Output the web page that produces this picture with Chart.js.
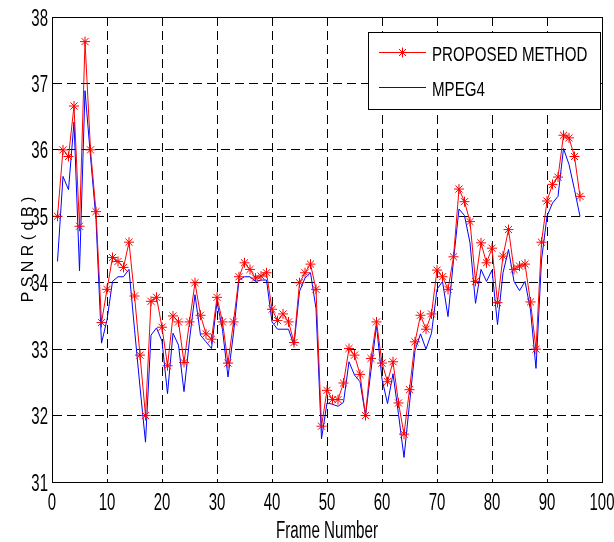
<!DOCTYPE html>
<html>
<head>
<meta charset="utf-8">
<script src="https://cdn.jsdelivr.net/npm/chart.js@4/dist/chart.umd.min.js"></script>
<style>
  html, body { margin: 0; padding: 0; background: #fff; }
  #wrap { width: 614px; height: 542px; }
</style>
</head>
<body>
<div id="wrap"><canvas id="myChart" width="614" height="542"></canvas></div>
<script>
// frame numbers
let frames = [1,2,3,4,5,6,7,8,9,10,11,12,13,14,15,16,17,18,19,20,21,22,23,24,25,26,27,28,29,30,
  31,32,33,34,35,36,37,38,39,40,41,42,43,44,45,46,47,48,49,50,51,52,53,54,55,56,57,58,59,60,
  61,62,63,64,65,66,67,68,69,70,71,72,73,74,75,76,77,78,79,80,81,82,83,84,85,86,87,88,89,90,
  91,92,93,94,95,96];

// PSNR (dB), proposed method
let proposed = [35.0,36.0,35.9,36.66,34.85,37.63,36.0,35.07,33.4,33.9,
  34.38,34.32,34.23,34.61,33.8,32.91,32.0,33.72,33.78,33.33,
  32.75,33.5,33.41,32.8,33.41,34.0,33.51,33.23,33.15,33.78,
  33.41,32.79,33.41,34.09,34.3,34.2,34.07,34.1,34.15,33.6,
  33.43,33.53,33.41,33.1,34.0,34.15,34.28,33.9,31.84,32.38,
  32.24,32.24,32.49,33.01,32.91,32.62,32.0,32.86,33.41,32.79,
  32.51,32.81,32.19,31.72,32.39,33.11,33.51,33.3,33.53,34.19,
  34.09,33.9,34.39,35.41,35.22,34.92,34.02,34.6,34.3,34.52,
  33.7,34.4,34.8,34.2,34.25,34.28,33.71,33.0,34.61,35.23,
  35.48,35.59,36.22,36.18,35.9,35.3];

// PSNR (dB), MPEG4
let mpeg4 = [34.32,35.6,35.4,36.42,34.18,36.89,35.9,34.95,33.09,33.44,
  34.02,34.09,34.09,34.2,33.3,32.43,31.6,33.21,33.32,33.12,
  32.33,33.24,33.06,32.36,33.14,33.82,33.21,33.11,33.01,33.71,
  33.29,32.58,33.24,34.04,34.09,34.09,34.02,34.04,34.04,33.41,
  33.3,33.3,33.3,33.06,33.87,34.07,34.15,33.61,31.65,32.19,
  32.17,32.14,32.2,32.81,32.61,32.51,32.0,32.68,33.36,32.55,
  32.18,32.63,32.02,31.37,32.18,32.98,33.23,33.0,33.24,33.9,
  34.02,33.49,34.34,35.11,35.01,34.6,33.69,34.2,34.02,34.19,
  33.37,34.15,34.5,34.02,33.88,34.02,33.59,32.71,34.34,35.0,
  35.2,35.3,36.02,35.78,35.4,35.0];

let xTicks = [0,10,20,30,40,50,60,70,80,90,100];
let yTicks = [31,32,33,34,35,36,37,38];
let xTitle = 'Frame Number';
let yTitle = 'P S N R ( d B )';

let font = '"Liberation Sans", Arial, sans-serif';

function pts(vals) {
  return vals.map((v, i) => ({ x: frames[i], y: v }));
}

// narrow text, like Arial Narrow in the original
function narrowText(ctx, text, x, y, size, squeeze, align, rot) {
  ctx.save();
  ctx.translate(x, y);
  if (rot) ctx.rotate(rot);
  ctx.scale(squeeze, 1);
  ctx.font = size + 'px ' + font;
  ctx.fillStyle = '#000';
  ctx.textAlign = align;
  ctx.textBaseline = 'alphabetic';
  ctx.fillText(text, 0, 0);
  ctx.restore();
}

// box round the plot, tick labels, titles and legend
let boxAndLegend = {
  id: 'boxAndLegend',
  afterDraw(chart) {
    let ctx = chart.ctx;
    let a = chart.chartArea;
    let xs = chart.scales.x, ys = chart.scales.y;
    ctx.save();
    ctx.strokeStyle = '#000';
    ctx.lineWidth = 1;
    ctx.strokeRect(a.left + 0.5, a.top + 0.5, a.right - a.left, a.bottom - a.top);

    xs.ticks.forEach(t => {
      narrowText(ctx, String(t.value), xs.getPixelForValue(t.value), 510, 23, 0.65, 'center');
    });
    ys.ticks.forEach(t => {
      narrowText(ctx, String(t.value), 48, ys.getPixelForValue(t.value) + 8.5, 23, 0.65, 'right');
    });
    narrowText(ctx, xTitle, (a.left + a.right) / 2, 538, 23, 0.66, 'center');
    narrowText(ctx, yTitle, 33, (a.top + a.bottom) / 2, 17, 0.94, 'center', -Math.PI / 2);

    // legend
    let lx = 368, ly = 32, lw = 232, lh = 77;
    ctx.fillStyle = '#fff';
    ctx.fillRect(lx, ly, lw, lh);
    ctx.strokeRect(lx + 0.5, ly + 0.5, lw, lh);

    let rows = [52, 87];
    chart.data.datasets.forEach((ds, i) => {
      let y = rows[i];
      ctx.strokeStyle = ds.borderColor;
      ctx.lineWidth = 1;
      ctx.beginPath();
      ctx.moveTo(379, y + 0.5);
      ctx.lineTo(426, y + 0.5);
      ctx.stroke();
      if (ds.pointRadius > 0) {
        Chart.helpers.drawPoint(ctx, {
          pointStyle: 'star', radius: 5, borderWidth: 1
        }, 402.5, y + 0.5);
      }
      narrowText(ctx, ds.label, 432, y + 9, 21, 0.72, 'left');
    });
    ctx.restore();
  }
};

let myChart = document.getElementById('myChart').getContext('2d');

let psnrChart = new Chart(myChart, {
  type: 'line',
  data: {
    datasets: [{
      label: 'PROPOSED METHOD',
      data: pts(proposed),
      borderColor: '#ff0000',
      backgroundColor: '#ff0000',
      borderWidth: 1,
      pointStyle: 'star',
      pointRadius: 5,
      pointBorderWidth: 1,
      pointBorderColor: '#ff0000',
      tension: 0
    }, {
      label: 'MPEG4',
      data: pts(mpeg4),
      borderColor: '#0000ff',
      backgroundColor: '#0000ff',
      borderWidth: 1,
      pointRadius: 0,
      tension: 0
    }]
  },
  options: {
    responsive: false,
    animation: false,
    layout: {
      padding: { top: 17, right: 12, left: 0, bottom: 0 }
    },
    plugins: {
      legend: { display: false },
      tooltip: { enabled: false }
    },
    scales: {
      x: {
        type: 'linear',
        min: 0,
        max: 100,
        afterFit(scale) { scale.height = 60; },
        afterBuildTicks(scale) { scale.ticks = xTicks.map(v => ({ value: v })); },
        grid: { color: '#000', lineWidth: 1, drawTicks: false },
        border: { display: true, color: '#000', dash: [9, 5] },
        ticks: { display: false }
      },
      y: {
        min: 31,
        max: 38,
        afterFit(scale) { scale.width = 52; },
        afterBuildTicks(scale) { scale.ticks = yTicks.map(v => ({ value: v })); },
        grid: { color: '#000', lineWidth: 1, drawTicks: false },
        border: { display: true, color: '#000', dash: [9, 5] },
        ticks: { display: false }
      }
    }
  },
  plugins: [boxAndLegend]
});
</script>
</body>
</html>
